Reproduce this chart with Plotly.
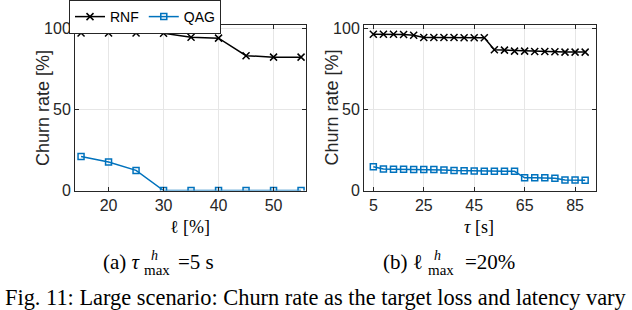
import plotly.graph_objects as go

# ---------------- data ----------------
loss_pct = [15, 20, 25, 30, 35, 40, 45, 50, 55]
rnf_loss = [97.1, 97.1, 97.1, 96.9, 94.5, 93.9, 83.1, 82.2, 82.2]
qag_loss = [21.0, 17.6, 12.4, 0, 0, 0, 0, 0, 0]

latency_s = [5, 9, 13, 17, 21, 25, 29, 33, 37, 41, 45, 49, 53, 57, 61, 65, 69, 73, 77, 81, 85, 89]
rnf_lat = [96.3, 96.3, 96.3, 96.1, 95.7, 94.3, 94.3, 94.3, 94.3, 94.1, 94.1, 94.1,
           86.7, 86.5, 85.9, 85.9, 85.7, 85.7, 85.5, 85.3, 85.3, 85.3]
qag_lat = [14.7, 13.3, 13.1, 13.1, 12.9, 12.9, 12.9, 12.7, 12.4, 12.2, 12.0, 11.8,
           11.8, 11.8, 11.8, 7.8, 7.8, 7.8, 7.6, 6.5, 6.5, 6.3]

loss_ticks = [20, 30, 40, 50]
lat_ticks = [5, 25, 45, 65, 85]
y_ticks = [0, 50, 100]

series_names = ["RNF", "QAG"]

# ---------------- styling ----------------
W, H = 632, 310
def fx(p):
    return p / W
def fy(p):
    return 1 - p / H

BLACK = "#000000"
BLUE = "#0072BD"
AX = "#262626"
GRID = "#e6e6e6"
SANS = "Liberation Sans, Arial, sans-serif"
SERIF = "Liberation Serif, Times New Roman, serif"

rnf_style = dict(mode="lines+markers", line=dict(color=BLACK, width=1.5),
                 marker=dict(symbol="x-thin-open", size=7, color=BLACK,
                             line=dict(color=BLACK, width=1.5)))
qag_style = dict(mode="lines+markers", line=dict(color=BLUE, width=1.5),
                 marker=dict(symbol="square-open", size=6, color=BLUE,
                             line=dict(color=BLUE, width=1.5)))

fig = go.Figure()
fig.add_trace(go.Scatter(x=loss_pct, y=rnf_loss, name=series_names[0], xaxis="x", yaxis="y", **rnf_style))
fig.add_trace(go.Scatter(x=loss_pct, y=qag_loss, name=series_names[1], xaxis="x", yaxis="y", **qag_style))
fig.add_trace(go.Scatter(x=latency_s, y=rnf_lat, name=series_names[0], xaxis="x2", yaxis="y2",
                         showlegend=False, **rnf_style))
fig.add_trace(go.Scatter(x=latency_s, y=qag_lat, name=series_names[1], xaxis="x2", yaxis="y2",
                         showlegend=False, **qag_style))

axis_common = dict(showline=True, linecolor=AX, linewidth=1, mirror="ticks",
                   ticks="inside", ticklen=4, tickcolor=AX, tickwidth=1,
                   showgrid=True, gridcolor=GRID, gridwidth=1, zeroline=False,
                   tickfont=dict(family=SANS, size=16, color=AX))

fig.update_layout(
    width=W, height=H,
    margin=dict(l=0, r=0, t=0, b=0, autoexpand=False),
    paper_bgcolor="white", plot_bgcolor="white",
    xaxis=dict(domain=[fx(75), fx(306)], range=[13.9, 55.9], tickvals=loss_ticks, anchor="y", **axis_common),
    yaxis=dict(domain=[fy(190.5), fy(25)], range=[0, 102], tickvals=y_ticks, anchor="x", **axis_common),
    xaxis2=dict(domain=[fx(364), fx(596)], range=[1.3, 93.3], tickvals=lat_ticks, anchor="y2", **axis_common),
    yaxis2=dict(domain=[fy(190.5), fy(25)], range=[0, 102], tickvals=y_ticks, anchor="x2", **axis_common),
    showlegend=True,
    legend=dict(orientation="h", x=fx(69), y=1, xanchor="left", yanchor="top",
                bordercolor=AX, borderwidth=1, bgcolor="white",
                font=dict(family=SANS, size=14, color=BLACK),
                itemwidth=30, tracegroupgap=0),
)

ann = []
def text(x, y, s, size, family, xanchor="center", angle=0, color=BLACK):
    ann.append(dict(x=fx(x), y=fy(y), xref="paper", yref="paper", text=s, showarrow=False,
                    xanchor=xanchor, yanchor="middle", textangle=angle,
                    font=dict(family=family, size=size, color=color)))

# y-axis titles
text(43, 108, "Churn rate [%]", 18, SANS, angle=-90, color=AX)
text(331.5, 108, "Churn rate [%]", 18, SANS, angle=-90, color=AX)
# x-axis titles
text(190, 227, "ℓ [%]", 18, SERIF)
text(479, 227, "<i>τ</i> [s]", 18, SERIF)

# sub-captions
text(143, 262, "(a) <i>τ</i>", 21, SERIF, xanchor="right")
text(149, 255, "<i>h</i>", 14, SERIF, xanchor="left")
text(142, 270, "max", 15, SERIF, xanchor="left")
text(176, 262, "=5 s", 21, SERIF, xanchor="left")

text(425, 262, "(b) ℓ", 21, SERIF, xanchor="right")
text(432, 255, "<i>h</i>", 14, SERIF, xanchor="left")
text(426, 270, "max", 15, SERIF, xanchor="left")
text(463, 262, "=20%", 21, SERIF, xanchor="left")

# figure caption
text(316, 297, "Fig. 11: Large scenario: Churn rate as the target loss and latency vary", 22.4, SERIF)

fig.update_layout(annotations=ann)
fig.write_html("out.html",
               config={"displayModeBar": False},
               post_script="document.body.style.margin='0';document.body.style.overflow='hidden';")
